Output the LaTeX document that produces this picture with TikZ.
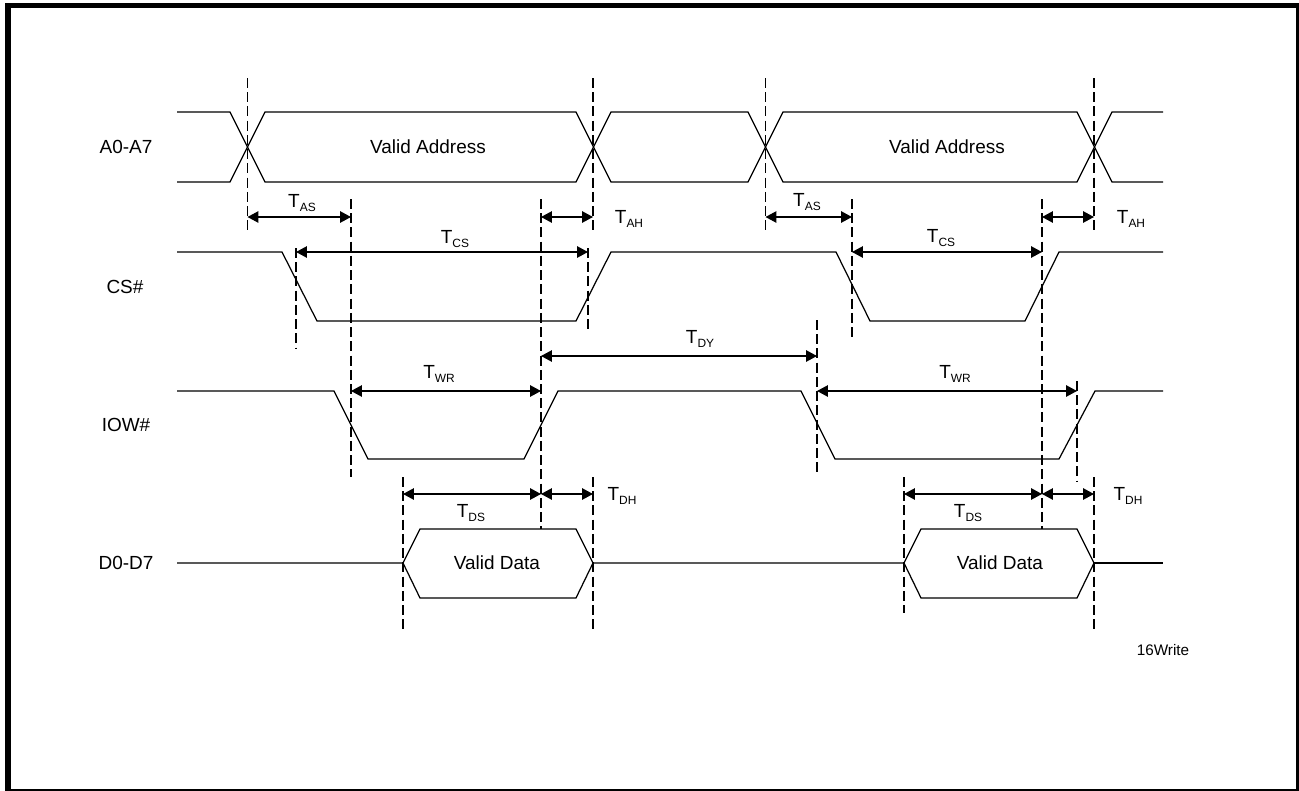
\documentclass[tikz,border=0pt]{standalone}
\usepackage{fontspec}
\setmainfont{Liberation Sans}
\usetikzlibrary{arrows.meta}

\tikzset{
  sig/.style={line width=0.7pt},
  guide/.style={line width=0.6pt, dash pattern=on 5.7pt off 2.4pt},
  dim/.style={line width=0.7pt, {Stealth[black,inset=0pt,length=6.2pt,width=6.5pt]}-{Stealth[black,inset=0pt,length=6.2pt,width=6.5pt]}},
  txt/.style={inner sep=0pt, font=\fontsize{10.8}{13}\selectfont},
  tlbl/.style={txt, anchor=base},
}
\newcommand{\tsub}[1]{T\raisebox{-2.8pt}{\fontsize{6.8}{8}\selectfont #1}}

\begin{document}
\begin{tikzpicture}[x=0.02cm, y=-0.02cm]
        \useasboundingbox (0,0) rectangle (1299,791);
        % frame
        \fill (5,3) rectangle (11,791);
        \fill (5,3) rectangle (1299,8);
        \fill (1296,3) rectangle (1299,791);
        \fill (5,789) rectangle (1299,790.5);

        % signal names
        \node[txt] (nameA) at (126,147) {A0-A7};
        \node[txt] (nameCS) at (125,287) {CS\#};
        \node[txt] (nameIOW) at (126,425) {IOW\#};
        \node[txt] (nameD) at (126,563) {D0-D7};

        % A0-A7
        \draw[sig] (177,112) -- (230,112) -- (265,182) -- (576,182) -- (611,112) -- (748,112) -- (783,182) -- (1077,182) -- (1112,112) -- (1163,112);
        \draw[sig] (177,182) -- (230,182) -- (265,112) -- (576,112) -- (611,182) -- (748,182) -- (783,112) -- (1077,112) -- (1112,182) -- (1163,182);
        \node[txt] (addr1) at (428,147) {Valid Address};
        \node[txt] (addr2) at (947,147) {Valid Address};

        % CS#
        \draw[sig] (177,252) -- (282,252) -- (317,321) -- (576,321) -- (611,252) -- (836,252) -- (870,321) -- (1025,321) -- (1059,252) -- (1163,252);

        % IOW#
        \draw[sig] (177,391) -- (334,391) -- (368,459) -- (524,459) -- (558,391) -- (801,391) -- (835,459) -- (1059,459) -- (1095,391) -- (1163,391);

        % D0-D7
        \draw[sig] (177,563) -- (403,563) -- (420,529) -- (576,529) -- (593,563) -- (576,598) -- (420,598) -- (403,563);
        \draw[sig] (593,563) -- (904,563) -- (921,529) -- (1077,529) -- (1094,563) -- (1077,598) -- (921,598) -- (904,563);
        \draw[sig] (1094,563) -- (1163,563);
        \node[txt] (data1) at (497,563) {Valid Data};
        \node[txt] (data2) at (1000,563) {Valid Data};

        % dashed guides
        \draw[guide] (247.5,78) -- (247.5,233);
        \draw[guide] (593,78) -- (593,233);
        \draw[guide] (765.5,78) -- (765.5,233);
        \draw[guide] (1094,78) -- (1094,233);
        \draw[guide] (351,199) -- (351,477);
        \draw[guide] (541,199) -- (541,529);
        \draw[guide] (296,248) -- (296,348);
        \draw[guide] (588,248) -- (588,330);
        \draw[guide] (852,199) -- (852,337);
        \draw[guide] (1042,199) -- (1042,529);
        \draw[guide] (817,320) -- (817,476);
        \draw[guide] (1077,381) -- (1077,482);
        \draw[guide] (403,477) -- (403,632);
        \draw[guide] (593,477) -- (593,632);
        \draw[guide] (904,477) -- (904,613);
        \draw[guide] (1094,477) -- (1094,632);

        % timing arrows
        \draw[dim] (247.5,217) -- (351,217);
        \draw[dim] (541,217) -- (593,217);
        \draw[dim] (296,252) -- (588,252);
        \draw[dim] (765.5,217) -- (852,217);
        \draw[dim] (1042,217) -- (1094,217);
        \draw[dim] (852,252) -- (1042,252);
        \draw[dim] (541,356) -- (817,356);
        \draw[dim] (351,391) -- (541,391);
        \draw[dim] (817,391) -- (1077,391);
        \draw[dim] (403,494) -- (541,494);
        \draw[dim] (541,494) -- (593,494);
        \draw[dim] (904,494) -- (1042,494);
        \draw[dim] (1042,494) -- (1094,494);

        % timing labels
        \node[tlbl] (tas1) at (302,207) {\tsub{AS}};
        \node[tlbl] (tah1) at (629,223) {\tsub{AH}};
        \node[tlbl] (tcs1) at (455,243) {\tsub{CS}};
        \node[tlbl] (tas2) at (807,206) {\tsub{AS}};
        \node[tlbl] (tah2) at (1131,223) {\tsub{AH}};
        \node[tlbl] (tcs2) at (941,242) {\tsub{CS}};
        \node[tlbl] (tdy) at (700,343) {\tsub{DY}};
        \node[tlbl] (twr1) at (439,378) {\tsub{WR}};
        \node[tlbl] (twr2) at (955,378) {\tsub{WR}};
        \node[tlbl] (tds1) at (471,517) {\tsub{DS}};
        \node[tlbl] (tdh1) at (622,500) {\tsub{DH}};
        \node[tlbl] (tds2) at (968,517) {\tsub{DS}};
        \node[tlbl] (tdh2) at (1128,500) {\tsub{DH}};

        \node[inner sep=0pt, font=\fontsize{8.7}{10}\selectfont] (fig) at (1163,650) {16Write};
    \end{tikzpicture}
\end{document}
